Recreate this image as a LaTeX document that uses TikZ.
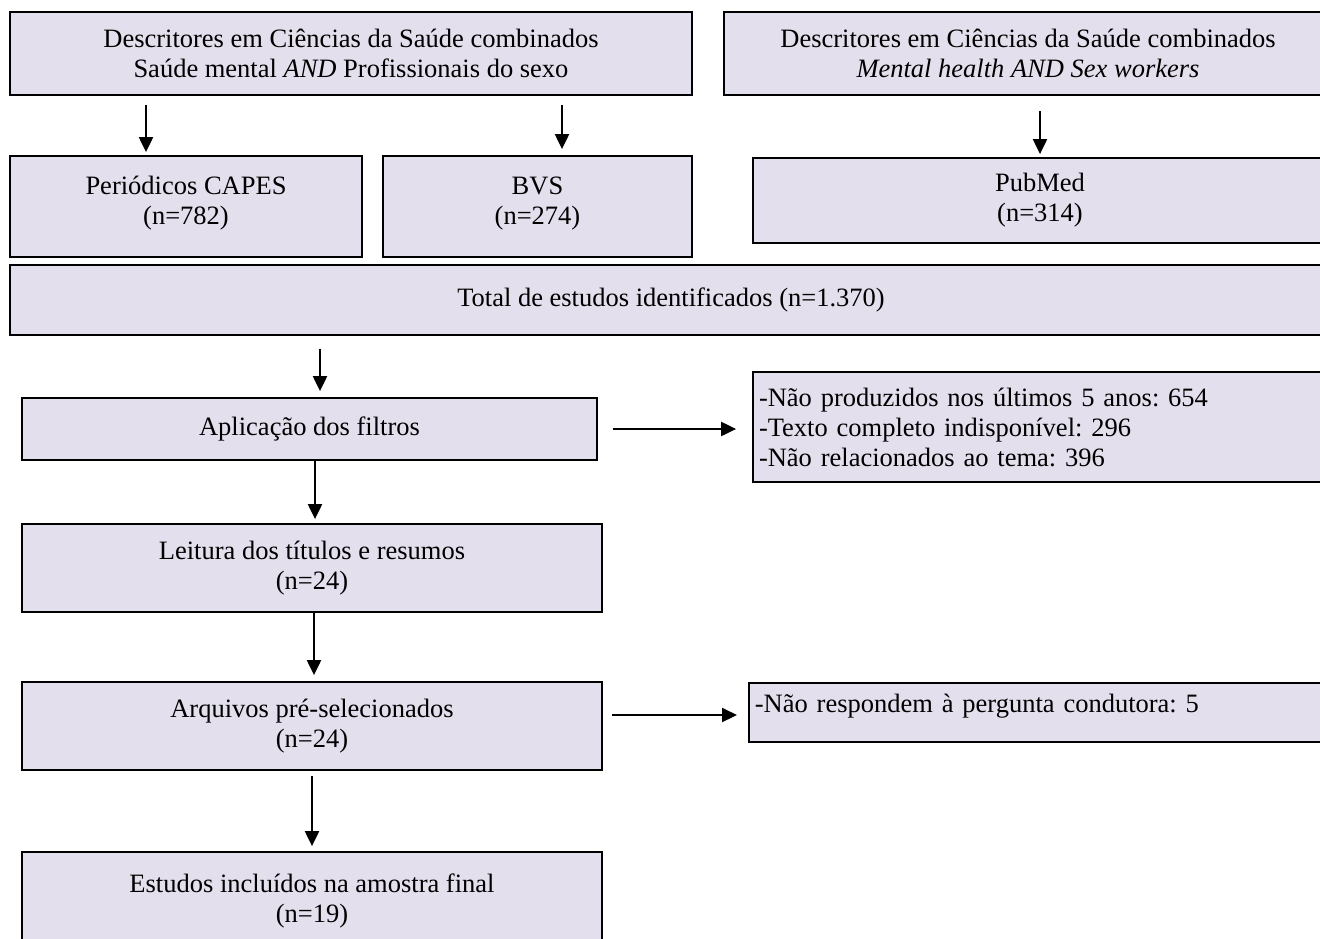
\documentclass[tikz,border=0pt]{standalone}
\usepackage{fontspec}
\setmainfont{Liberation Serif}
\usetikzlibrary{arrows.meta}
\definecolor{boxfill}{RGB}{228,223,236}
\frenchspacing
\begin{document}
\begin{tikzpicture}[x=1pt,y=-1pt,
    box/.style={draw, line width=1.8pt, fill=boxfill, align=center, inner sep=0pt,
      font=\fontsize{26.5}{30}\selectfont},
    sidebox/.style={box, align=left, inner xsep=6pt},
    arr/.style={line width=2.1pt, -{Triangle[length=15pt,width=14pt]}}]
  \useasboundingbox (0,0) rectangle (1320,938);
  \node[box, minimum width=682, minimum height=83] (desc1) at (351,53.5)
    {Descritores em Ciências da Saúde combinados\\Saúde mental \textit{AND} Profissionais do sexo};
  \node[box, minimum width=608, minimum height=83] (desc2) at (1028,53.5)
    {Descritores em Ciências da Saúde combinados\\\textit{Mental health AND Sex workers}};
  \node[box, minimum width=352, minimum height=101, text depth=12pt] (capes) at (186,206.5)
    {Periódicos CAPES\\(n=782)};
  \node[box, minimum width=309, minimum height=101, text depth=12pt] (bvs) at (537.5,206.5)
    {BVS\\(n=274)};
  \node[box, minimum width=574, minimum height=85] (pubmed) at (1040,200.5)
    {PubMed\\(n=314)};
  \node[box, minimum width=1322, minimum height=70] (total) at (671,300)
    {Total de estudos identificados (n=1.370)};
  \node[box, minimum width=575, minimum height=62] (filtros) at (309.5,429)
    {Aplicação dos filtros};
  \node[sidebox, text width=565, minimum height=110] (excl1) at (1041.5,427)
    {-Não produzidos nos últimos 5 anos: 654\\-Texto completo indisponível: 296\\-Não relacionados ao tema: 396};
  \node[box, minimum width=580, minimum height=88] (leitura) at (312,568)
    {Leitura dos títulos e resumos\\(n=24)};
  \node[box, minimum width=580, minimum height=88] (arquivos) at (312,726)
    {Arquivos pré-selecionados\\(n=24)};
  \node[sidebox, text width=570, anchor=north west, inner ysep=11pt, text depth=19pt] (excl2) at (748,682)
    {-Não respondem à pergunta condutora: 5};
  \node[box, minimum width=580, minimum height=98] (estudos) at (312,901)
    {Estudos incluídos na amostra final\\(n=19)};
  \begin{scope}[arr]
    \draw[shorten <=9pt, shorten >=3pt] ([xshift=-40pt]capes.north |- desc1.south) to ([xshift=-40pt]capes.north);
    \draw[shorten <=9pt, shorten >=6pt] ([xshift=24.5pt]bvs.north |- desc1.south) to ([xshift=24.5pt]bvs.north);
    \draw[shorten <=15pt, shorten >=3pt] (pubmed.north |- desc2.south) to (pubmed.north);
    \draw[shorten <=13pt, shorten >=6pt] ([xshift=10.5pt]filtros.north |- total.south) to ([xshift=10.5pt]filtros.north);
    \draw[shorten >=4pt] ([xshift=3pt]leitura.north |- filtros.south) to ([xshift=3pt]leitura.north);
    \draw[shorten >=6pt] ([xshift=2pt]arquivos.north |- leitura.south) to ([xshift=2pt]arquivos.north);
    \draw[shorten <=5pt, shorten >=5pt] (arquivos.south) to (estudos.north);
    \draw[shorten <=15pt, shorten >=16pt] (filtros.east) to (filtros.east -| excl1.west);
    \draw[shorten <=9pt, shorten >=11pt] ([yshift=11pt]arquivos.east) to ([yshift=11pt]arquivos.east -| excl2.west);
  \end{scope}
\end{tikzpicture}
\end{document}
